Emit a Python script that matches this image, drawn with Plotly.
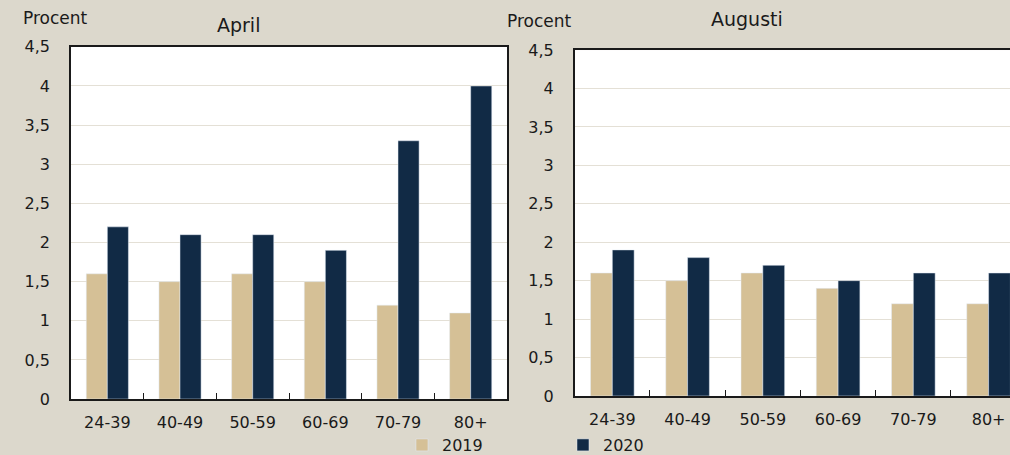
import plotly.graph_objects as go

categories = ["24-39", "40-49", "50-59", "60-69", "70-79", "80+"]
april_2019 = [1.6, 1.5, 1.6, 1.5, 1.2, 1.1]
april_2020 = [2.2, 2.1, 2.1, 1.9, 3.3, 4.0]
aug_2019 = [1.6, 1.5, 1.6, 1.4, 1.2, 1.2]
aug_2020 = [1.9, 1.8, 1.7, 1.5, 1.6, 1.6]
series_names = ["2019", "2020"]
y_ticks = [0, 0.5, 1, 1.5, 2, 2.5, 3, 3.5, 4, 4.5]

C19 = "#d5c096"
C20 = "#112a45"
BG = "#dcd8cc"
FONT = "DejaVu Sans"

fig = go.Figure()
fig.add_trace(go.Bar(x=categories, y=april_2019, name=series_names[0], marker_color=C19,
                     xaxis="x", yaxis="y", legendgroup="a"))
fig.add_trace(go.Bar(x=categories, y=april_2020, name=series_names[1], marker_color=C20,
                     xaxis="x", yaxis="y", legendgroup="b"))
fig.add_trace(go.Bar(x=categories, y=aug_2019, name=series_names[0], marker_color=C19,
                     xaxis="x2", yaxis="y2", showlegend=False, legendgroup="a"))
fig.add_trace(go.Bar(x=categories, y=aug_2020, name=series_names[1], marker_color=C20,
                     xaxis="x2", yaxis="y2", showlegend=False, legendgroup="b"))

tickfont = dict(family=FONT, size=16, color="#1a1a1a")
xcommon = dict(type="category", showline=True, linecolor="#1a1a1a", linewidth=1.5,
               ticks="inside", tickson="boundaries", ticklen=6, tickcolor="#1a1a1a",
               tickfont=tickfont, showgrid=False, mirror=True, fixedrange=True,
               automargin=False, ticklabelstandoff=8)
ycommon = dict(range=[0, 4.5], tickvals=y_ticks, showline=True, linecolor="#1a1a1a",
               linewidth=1.5, ticks="", tickfont=tickfont, showgrid=True,
               gridcolor="#e4e0d6", gridwidth=1.2, zeroline=False, ticklabelstandoff=16,
               automargin=False)

fig.update_layout(
    width=1010, height=455,
    paper_bgcolor=BG, plot_bgcolor="white",
    margin=dict(l=0, r=0, t=0, b=0, autoexpand=False),
    separators=", ",
    barmode="group", bargap=0.42, bargroupgap=0,
    font=dict(family=FONT, size=16, color="#1a1a1a"),
    xaxis=dict(domain=[0.0703, 0.502], anchor="y", range=[-0.5, 5.5], **xcommon),
    yaxis=dict(domain=[0.123, 0.897], anchor="x", mirror=True, **ycommon),
    xaxis2=dict(domain=[0.569, 1.0], anchor="y2", range=[-0.5, -0.5 + 435 / 75.2], **xcommon),
    yaxis2=dict(domain=[0.1297, 0.890], anchor="x2", **ycommon),
    legend=dict(orientation="h", x=0.398, y=1 - 445 / 455, xanchor="left", yanchor="middle",
                entrywidth=116, entrywidthmode="pixels", itemwidth=30,
                bgcolor="rgba(0,0,0,0)",
                font=dict(family=FONT, size=16, color="#1a1a1a"), itemclick=False),
    showlegend=True,
    annotations=[
        dict(text="Procent", x=55 / 1010, y=1 - 18 / 455, xref="paper", yref="paper",
             xanchor="center", yanchor="middle",
             showarrow=False, font=dict(family=FONT, size=17)),
        dict(text="April", x=238 / 1010, y=1 - 25 / 455, xref="paper", yref="paper",
             xanchor="center", yanchor="middle",
             showarrow=False, font=dict(family=FONT, size=19)),
        dict(text="Procent", x=539 / 1010, y=1 - 21 / 455, xref="paper", yref="paper",
             xanchor="center", yanchor="middle",
             showarrow=False, font=dict(family=FONT, size=17)),
        dict(text="Augusti", x=747 / 1010, y=1 - 19 / 455, xref="paper", yref="paper",
             xanchor="center", yanchor="middle",
             showarrow=False, font=dict(family=FONT, size=19)),
    ],
)

fig.write_html("out.html", config={"displayModeBar": False},
               post_script="document.body.style.margin='0';document.body.style.overflow='hidden';")
